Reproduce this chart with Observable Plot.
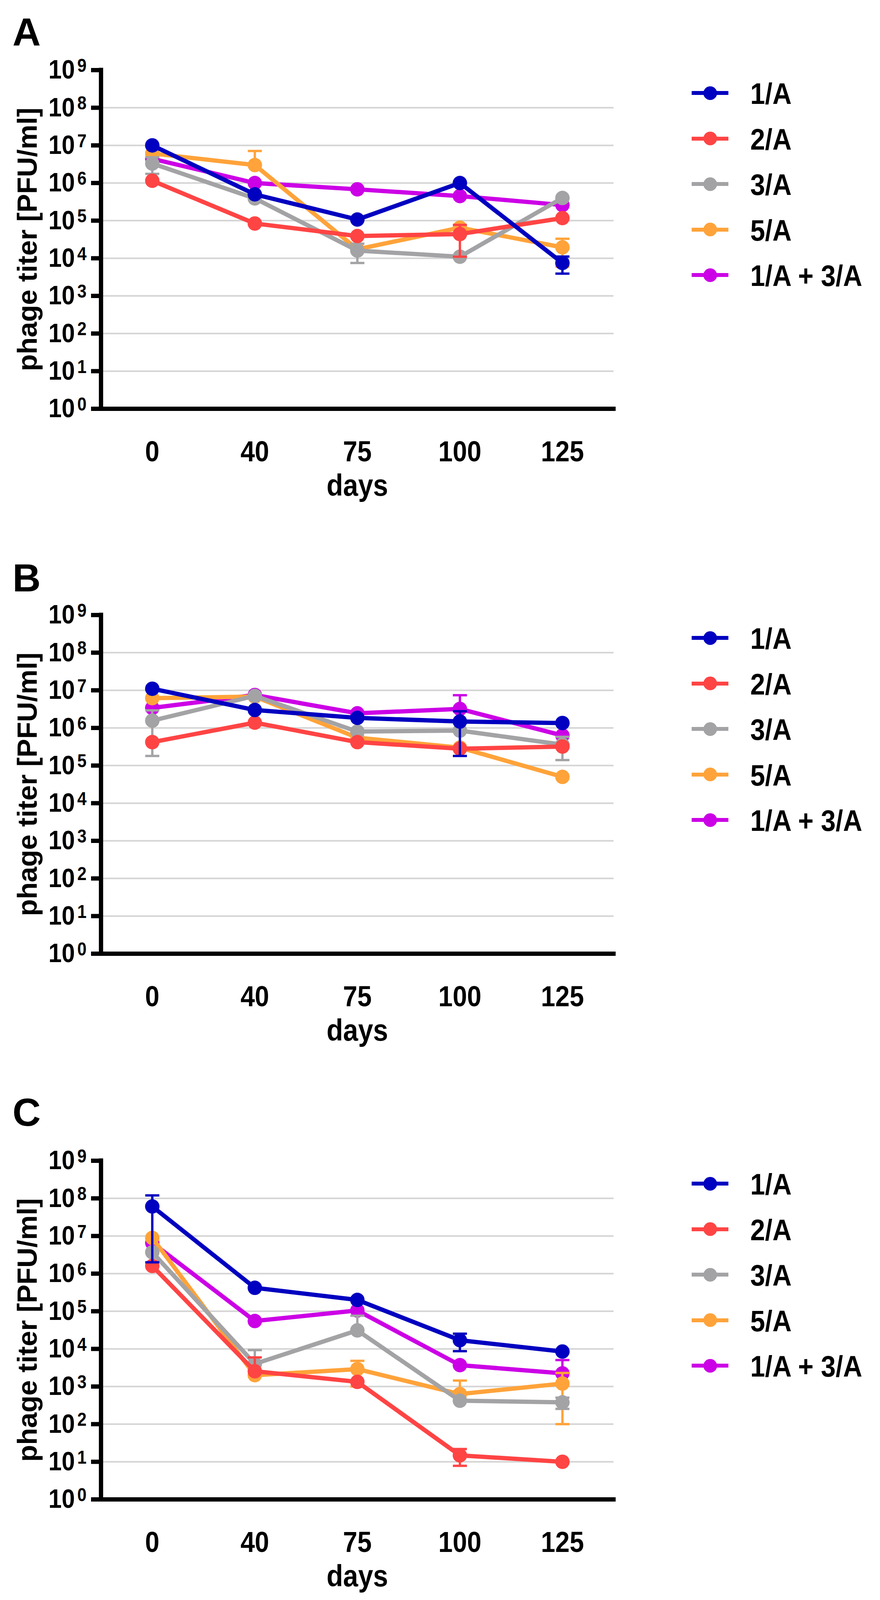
<!DOCTYPE html>
<html>
<head>
<meta charset="utf-8">
<script src="https://cdn.jsdelivr.net/npm/d3@7"></script>
<script src="https://cdn.jsdelivr.net/npm/@observablehq/plot@0.6"></script>
<style>
  html, body { margin: 0; padding: 0; background: #fff; }
  #page { position: relative; width: 2252px; height: 4109px; overflow: hidden; background: #fff;
          font-family: "Liberation Sans", Arial, sans-serif; font-weight: bold; color: #000; }
  .letter { position: absolute; left: 32px; font-size: 100px; line-height: 1; }
  .lrow { position: absolute; left: 1770px; height: 0; }
  .lline { position: absolute; left: 0; top: -5px; width: 94px; height: 10px; }
  .ldot { position: absolute; left: 29.5px; top: -17.5px; width: 35px; height: 35px; border-radius: 50%; }
  .ltext { position: absolute; left: 150px; top: -33px; font-size: 68px; line-height: 1; white-space: nowrap;
           transform: scaleY(1.12); transform-origin: left center; }
</style>
</head>
<body>
<div id="page"></div>
<script>
// ---------- data ----------
const days = ["0", "40", "75", "100", "125"];
const groups = ["1/A", "2/A", "3/A", "5/A", "1/A + 3/A"];
const groupColors = ["#0000c0", "#ff4444", "#a3a3a6", "#ffa33a", "#cc00e6"];
const panelLabels = ["A", "B", "C"];
const yTicks = [1e0, 1e1, 1e2, 1e3, 1e4, 1e5, 1e6, 1e7, 1e8, 1e9];
const gridTicks = [1e1, 1e2, 1e3, 1e4, 1e5, 1e6, 1e7, 1e8];

// Panel A: mean titer per group (rows follow `groups`), columns follow `days`
const titerA = [
  [1.0e7, 5.0e5, 1.07e5, 1.0e6, 7.5e3],
  [1.15e6, 8.4e4, 3.9e4, 4.4e4, 1.17e5],
  [3.3e6, 3.9e5, 1.6e4, 1.1e4, 4.0e5],
  [6.1e6, 3.0e6, 1.73e4, 6.5e4, 1.95e4],
  [4.4e6, 1.0e6, 6.8e5, 4.5e5, 2.6e5]
];
const sdA = [
  [null, null, null, null, 3.6e3],
  [null, null, null, 3.3e4, null],
  [1.55e6, null, 8.5e3, null, null],
  [null, 4.1e6, null, null, 1.35e4],
  [null, null, null, null, null]
];

// Panel B
const titerB = [
  [1.1e7, 3.0e6, 1.85e6, 1.48e6, 1.35e6],
  [4.2e5, 1.38e6, 4.2e5, 2.8e5, 3.2e5],
  [1.56e6, 7.1e6, 8.0e5, 8.5e5, 3.6e5],
  [6.2e6, 6.8e6, 5.5e5, 3.0e5, 5.0e4],
  [3.4e6, 7.5e6, 2.45e6, 3.2e6, 6.3e5]
];
const sdB = [
  [null, null, null, 1.3e6, null],
  [null, null, null, null, null],
  [1.38e6, null, null, null, 2.2e5],
  [null, null, null, null, null],
  [null, null, null, 4.2e6, null]
];

// Panel C
const titerC = [
  [6.1e7, 4.2e5, 2.0e5, 1.7e4, 8.5e3],
  [1.6e6, 2.55e3, 1.33e3, 14.8, 10],
  [3.7e6, 4.0e3, 3.1e4, 420, 380],
  [8.9e6, 2.0e3, 2.9e3, 630, 1.2e3],
  [6.6e6, 5.5e4, 1.05e5, 3.7e3, 2.24e3]
];
const sdC = [
  [5.9e7, null, null, 8.3e3, null],
  [null, 3.4e3, null, 7, null],
  [null, 5.3e3, 4.5e4, null, 125],
  [null, null, 1.9e3, 810, 1.1e3],
  [null, null, null, null, 2.8e3]
];

const panelTiters = [titerA, titerB, titerC];
const panelSds = [sdA, sdB, sdC];

// ---------- layout ----------
const axisTops = [179, 1574, 2971];
const letterBaselines = [117, 1514, 2882];
const legendOffsets = [59, 175.5, 292, 408.5, 525];
const W = 1640, ML = 258, MR = 70, MT = 60, PH = 867, MB = 280;
const LETTER_FS = 100;
const TEXT_STRETCH = 1.12;

const capSymbol = { draw(ctx) { ctx.moveTo(-18, 0); ctx.lineTo(18, 0); } };

const page = document.getElementById("page");

function rowsFor(titers, sds, gi) {
  return days.map((d, i) => ({ i, day: d, titer: titers[gi][i], sd: sds[gi][i] }));
}

panelTiters.forEach((titers, p) => {
  const sds = panelSds[p];
  const marks = [
    Plot.gridY(gridTicks, { stroke: "#d4d4d4", strokeOpacity: 1, strokeWidth: 4 })
  ];
  // draw back-to-front: last group first, first group on top
  for (let gi = groups.length - 1; gi >= 0; gi--) {
    const color = groupColors[gi];
    const rows = rowsFor(titers, sds, gi);
    const err = rows.filter(r => r.sd != null).map(r => {
      const lo = r.titer - r.sd, hi = r.titer + r.sd;
      return { i: r.i, lo: lo > 0 ? lo : r.titer, hi, hasLo: lo > 0 };
    });
    const caps = [];
    err.forEach(e => { caps.push({ i: e.i, v: e.hi }); if (e.hasLo) caps.push({ i: e.i, v: e.lo }); });
    marks.push(
      Plot.ruleX(err, { x: "i", y1: "lo", y2: "hi", stroke: color, strokeWidth: 6 }),
      Plot.dot(caps, { x: "i", y: "v", symbol: capSymbol, fill: "none", stroke: color, strokeWidth: 6 }),
      Plot.line(rows, { x: "i", y: "titer", stroke: color, strokeWidth: 11 }),
      Plot.dot(rows, { x: "i", y: "titer", r: 18.5, fill: color, stroke: "none" })
    );
  }
  marks.push(
    Plot.ruleX([-0.5], { stroke: "#000", strokeWidth: 11, strokeLinecap: "square" }),
    Plot.ruleY([1], { stroke: "#000", strokeWidth: 11, strokeLinecap: "square" }),
    Plot.axisY(yTicks, {
      tickSize: 25, tickPadding: 12, strokeWidth: 11, fontSize: 61, label: null,
      tickFormat: v => "10^" + Math.round(Math.log10(v))
    }),
    Plot.axisX(d3.range(days.length), {
      tickSize: 0, tickPadding: 82, fontSize: 66, label: null,
      tickFormat: i => days[i]
    }),
    Plot.text(["days"], { text: d => d, frameAnchor: "bottom", dy: 198, lineAnchor: "middle", fontSize: 69, fill: "#000" }),
    Plot.text(["phage titer [PFU/ml]"], { text: d => d, frameAnchor: "left", dx: -187, rotate: -90, lineAnchor: "middle", textAnchor: "middle", fontSize: 71, fill: "#000" })
  );

  const svg = Plot.plot({
    width: W, height: MT + PH + MB,
    marginLeft: ML, marginRight: MR, marginTop: MT, marginBottom: MB,
    x: { domain: [-0.5, days.length - 0.5] },
    y: { type: "log", domain: [1, 1e9] },
    style: { fontFamily: "'Liberation Sans', Arial, sans-serif", fontWeight: "bold", color: "#000", background: "transparent", overflow: "visible" },
    marks
  });
  svg.style.position = "absolute";
  svg.style.left = "0px";
  svg.style.top = (axisTops[p] - MT) + "px";

  const sel = d3.select(svg);
  // superscript exponents on the y tick labels
  sel.selectAll('g[aria-label="y-axis tick label"] text').each(function () {
    const s = this.textContent;
    const [base, exp] = s.split("^");
    const t = d3.select(this);
    t.text(null);
    t.append("tspan").text(base);
    t.append("tspan").attr("dx", "0.14em").attr("dy", "-0.36em").attr("font-size", "0.7em").text(exp);
  });
  // the original typeface is taller than Liberation Sans at equal width
  sel.selectAll('g[aria-label="y-axis tick label"] text, g[aria-label="x-axis tick label"] text')
    .attr("transform", function () { return (this.getAttribute("transform") || "") + ` scale(1,${TEXT_STRETCH})`; });
  sel.selectAll('g[aria-label="text"] text')
    .filter(function () { return this.textContent === "days"; })
    .attr("transform", function () { return (this.getAttribute("transform") || "") + ` scale(1,${TEXT_STRETCH})`; });
  page.appendChild(svg);

  // panel letter
  const L = document.createElement("div");
  L.className = "letter";
  L.textContent = panelLabels[p];
  L.style.top = (letterBaselines[p] - 0.8465 * LETTER_FS) + "px";
  page.appendChild(L);

  // legend
  groups.forEach((g, gi) => {
    const row = document.createElement("div");
    row.className = "lrow";
    row.style.top = (axisTops[p] + legendOffsets[gi]) + "px";
    row.innerHTML = `<div class="lline" style="background:${groupColors[gi]}"></div>` +
      `<div class="ldot" style="background:${groupColors[gi]}"></div>` +
      `<div class="ltext">${g}</div>`;
    page.appendChild(row);
  });
});
</script>
</body>
</html>
